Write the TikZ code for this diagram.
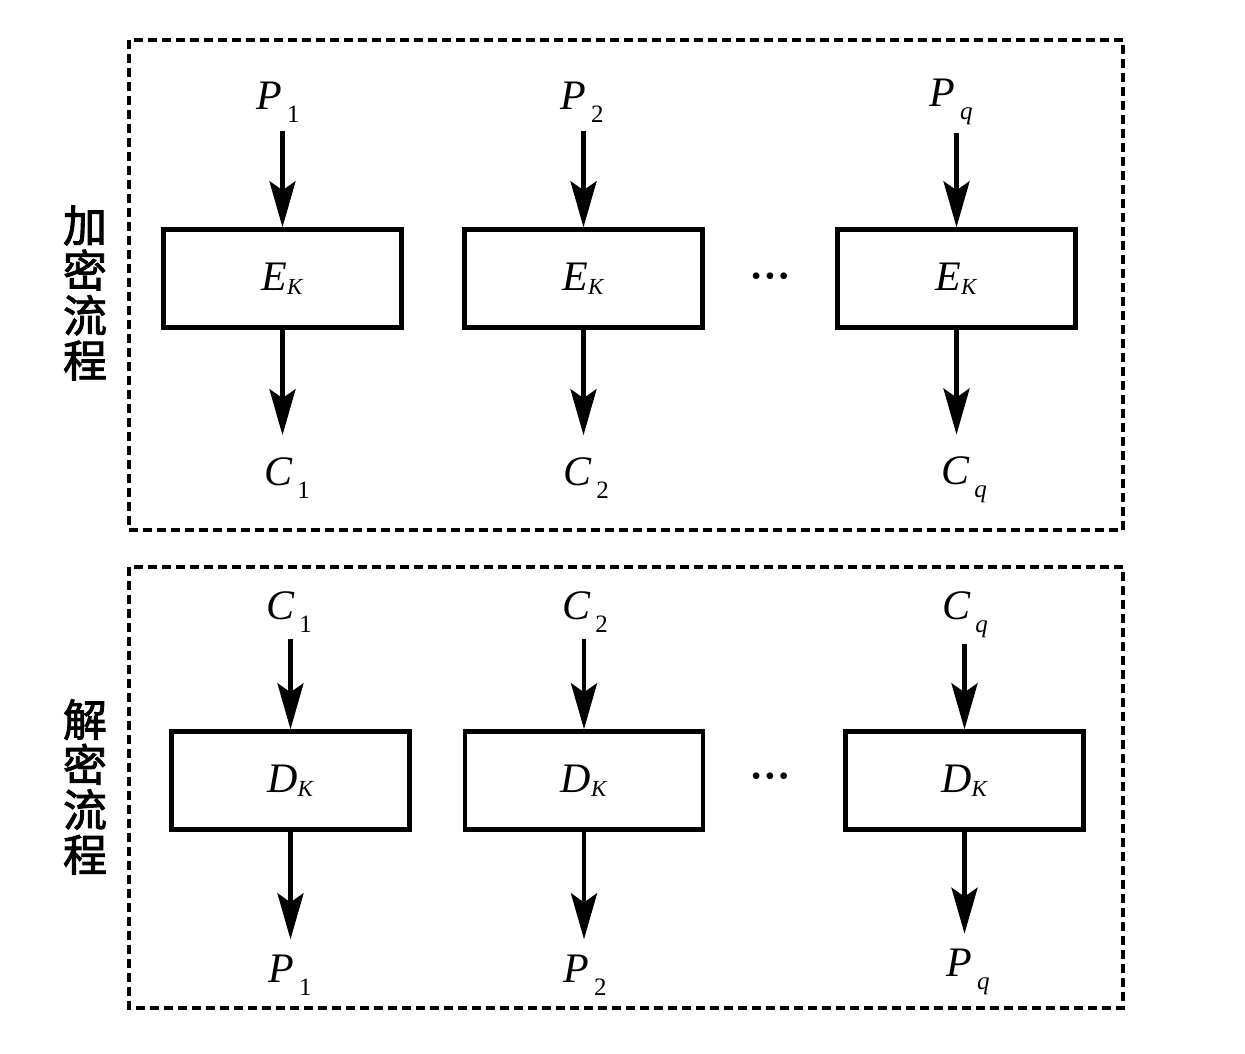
\documentclass[tikz,border=0pt]{standalone}
\usepackage{fontspec}
\setmainfont{Liberation Serif}
\newfontfamily\cjk{Noto Sans CJK SC}[FakeBold=2]
\usetikzlibrary{arrows.meta}
\newcommand{\io}[2]{\textit{#1}\hspace{2.5pt}\raisebox{-6.5pt}{\fontsize{12.5}{12.5}\selectfont #2}}
\newcommand{\op}[1]{\textit{#1}\raisebox{-2pt}{\fontsize{11.5}{11.5}\selectfont\textit{K}}}

\begin{document}
\begin{tikzpicture}[x=0.5pt, y=-0.5pt,
    frame/.style={dash pattern=on 4.5pt off 2.5pt, line width=2.2pt},
    blk/.style={draw, line width=2.2pt, minimum width=119pt, minimum height=49pt, inner sep=0pt, font=\fontsize{21}{24}\selectfont},
    lbl/.style={inner sep=0pt, font=\fontsize{21}{24}\selectfont},
    side/.style={align=center, inner sep=0pt, font=\fontsize{22}{22.5}\selectfont\cjk},
    dots/.style={inner sep=0pt, font=\fontsize{14}{14}\selectfont},
    arr/.style={-{Stealth[length=23pt, width=13pt, inset=4.5pt]}, line width=2.2pt}
  ]
  \useasboundingbox (0,0) rectangle (1245,1053);

  % encryption
  \draw[frame] (129,40) rectangle (1123,530);
  \node[side] (enc) at (85,293) {加\\密\\流\\程};
  \node[blk] (e1) at (282.5,278.5) {\op{E}};
  \node[blk] (e2) at (583.5,278.5) {\op{E}};
  \node[blk] (e3) at (956.5,278.5) {\op{E}};
  \node[dots] (edots) at (770,279) {\textbullet\hspace{2pt}\textbullet\hspace{2pt}\textbullet};
  \node[lbl] (p1) at (278,102) {\io{P}{1}};
  \node[lbl] (p2) at (582,102) {\io{P}{2}};
  \node[lbl] (pq) at (951,102) {\io{P}{\textit{q}}};
  \node[lbl] (c1) at (287,478) {\io{C}{1}};
  \node[lbl] (c2) at (586,478) {\io{C}{2}};
  \node[lbl] (cq) at (964,480) {\io{C}{\textit{q}}};
  \draw[arr, shorten <=4pt] (p1.south -| e1.north) -- (e1.north);
  \draw[arr, shorten <=4pt] (p2.south -| e2.north) -- (e2.north);
  \draw[arr, shorten <=4pt] (pq.south -| e3.north) -- (e3.north);
  \draw[arr, shorten >=11pt] (e1.south) -- (e1.south |- c1.north);
  \draw[arr, shorten >=11pt] (e2.south) -- (e2.south |- c2.north);
  \draw[arr, shorten >=11pt] (e3.south) -- (e3.south |- cq.north);

  % decryption
  \draw[frame] (129,567) rectangle (1123,1008);
  \node[side] (dec) at (85,787) {解\\密\\流\\程};
  \node[blk] (d1) at (290.5,780.5) {\op{D}};
  \node[blk] (d2) at (584,780.5) {\op{D}};
  \node[blk] (d3) at (964.5,780.5) {\op{D}};
  \node[dots] (ddots) at (770,779) {\textbullet\hspace{2pt}\textbullet\hspace{2pt}\textbullet};
  \node[lbl] (dc1) at (289,612) {\io{C}{1}};
  \node[lbl] (dc2) at (585,612) {\io{C}{2}};
  \node[lbl] (dcq) at (965,615) {\io{C}{\textit{q}}};
  \node[lbl] (dp1) at (290,975) {\io{P}{1}};
  \node[lbl] (dp2) at (585,975) {\io{P}{2}};
  \node[lbl] (dpq) at (968,972) {\io{P}{\textit{q}}};
  \draw[arr, shorten <=3pt] (dc1.south -| d1.north) -- (d1.north);
  \draw[arr, shorten <=3pt] (dc2.south -| d2.north) -- (d2.north);
  \draw[arr, shorten <=3pt] (dcq.south -| d3.north) -- (d3.north);
  \draw[arr, shorten >=7.5pt] (d1.south) -- (d1.south |- dp1.north);
  \draw[arr, shorten >=7.5pt] (d2.south) -- (d2.south |- dp2.north);
  \draw[arr, shorten >=7.5pt] (d3.south) -- (d3.south |- dpq.north);
\end{tikzpicture}
\end{document}
